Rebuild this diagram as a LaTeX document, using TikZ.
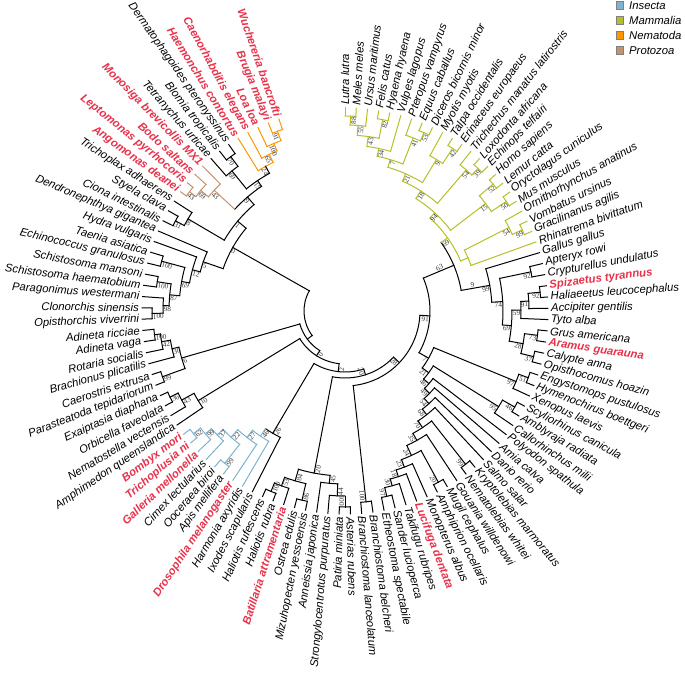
\documentclass[tikz,border=0pt]{standalone}
\usepackage{fontspec}
\setmainfont{Liberation Sans}
\newfontfamily\bootfont{Liberation Serif}
\definecolor{insecta}{RGB}{127,178,206}
\definecolor{mammalia}{RGB}{184,190,42}
\definecolor{nematoda}{RGB}{255,150,0}
\definecolor{protozoa}{RGB}{196,146,112}
\definecolor{hilite}{RGB}{231,50,75}
\definecolor{bootgray}{RGB}{55,55,55}

\newcounter{bsno}
\tikzset{
  branch/.style={line width=1pt, line cap=rect},
  boot/.style={font=\bootfont\fontsize{7.2}{7.2}\selectfont, text=bootgray, inner sep=0.7pt},
  leaf/.style={font=\fontsize{11.3}{12}\selectfont\itshape, inner sep=0pt},
  leafhi/.style={font=\fontsize{11.3}{12}\selectfont\bfseries\itshape, text=hilite, inner sep=0pt},
  keybox/.style={draw=gray, line width=0.8pt, minimum size=7.5pt, inner sep=0pt},
  keytext/.style={font=\fontsize{11.3}{12}\selectfont\itshape, inner sep=0pt, anchor=west}
}

% bootstrap value, set just inside the node
\newcommand{\bootval}[3]{%
  \stepcounter{bsno}%
  \pgfmathtruncatemacro{\bside}{cos(#1)>-0.01}%
  \ifnum\bside=1
    \node[boot, rotate=#1, anchor=north east] (bs\arabic{bsno}) at (#1:#2pt) {#3};
  \else
    \pgfmathsetmacro{\brot}{#1-180}%
    \node[boot, rotate=\brot, anchor=north west] (bs\arabic{bsno}) at (#1:#2pt) {#3};
  \fi}

% clade: colour, first/last child angle, radius, parent radius, bootstrap
\newcommand{\clade}[6]{%
  \pgfmathsetmacro{\cmid}{(#2+#3)/2}%
  \draw[branch, draw=#1] (#2:#4pt) arc[start angle=#2, end angle=#3, radius=#4pt];
  \draw[branch, draw=#1] (\cmid:#5pt) -- (\cmid:#4pt);
  \if\relax\detokenize{#6}\relax\else\bootval{\cmid}{#4}{#6}\fi}

\begin{document}
\begin{tikzpicture}[x=1pt,y=1pt]
\useasboundingbox (-345,-363) rectangle (340,311);

% spine
\draw[branch] (150.5:41pt) arc[start angle=150.5, end angle=216.8, radius=41pt];
\clade{black}{196.05}{237.5}{47}{41}{}
\clade{black}{211.4}{263.6}{53}{47}{0}
\clade{black}{239.4}{287.85}{61}{53}{2}
\clade{black}{259.2}{316.5}{67}{61}{20}
\clade{black}{276.3}{356.7}{75}{67}{28}
\clade{black}{-29.4}{22.8}{85}{75}{91}

% nematodes, mites, protozoa, placozoa, helminths
\clade{black}{140.1}{160.85}{129}{41}{0}
\clade{black}{130.55}{149.6}{140}{129}{1}
\clade{black}{123.8}{137.3}{150}{140}{9}
\clade{black}{118.75}{128.9}{157}{150}{15}
\draw[branch, draw=nematoda] (115.8:165pt) arc[start angle=115.8, end angle=121.7, radius=165pt];
\draw[branch] (118.75:157pt) -- (118.75:165pt);
\bootval{118.75}{165}{24}
\clade{nematoda}{113.0}{118.6}{174}{165}{65}
\clade{nematoda}{110.6}{115.4}{182}{174}{100}
\clade{nematoda}{109.0}{112.2}{192}{182}{91}
\clade{black}{126.5}{131.3}{180}{157}{69}
\clade{black}{124.9}{128.1}{192}{180}{70}
\clade{protozoa}{134.5}{140.1}{178}{150}{43}
\clade{protozoa}{137.7}{142.5}{188}{178}{69}
\clade{protozoa}{140.9}{144.1}{196}{188}{43}
\clade{black}{147.2}{152.0}{182}{140}{8}
\clade{black}{150.4}{153.6}{192}{182}{31}
\clade{black}{156.8}{164.9}{150}{129}{5}
\clade{black}{160.0}{169.75}{158}{150}{12}
\clade{black}{164.8}{174.7}{166}{158}{69}
\clade{black}{163.2}{166.4}{190}{166}{100}
\clade{black}{171.15}{178.3}{176}{166}{87}
\clade{black}{169.6}{172.7}{190}{176}{100}
\clade{black}{175.9}{180.7}{182}{176}{98}
\clade{black}{179.1}{182.3}{193}{182}{100}

% rotifers, spiders, cnidarians
\clade{black}{192.3}{199.8}{170}{47}{6}
\clade{black}{189.5}{195.1}{177}{170}{30}
\clade{black}{187.1}{191.9}{186}{177}{42}
\clade{black}{185.5}{188.7}{192}{186}{100}
\clade{black}{198.2}{201.4}{194}{170}{99}
\clade{black}{208.6}{214.2}{172}{53}{10}
\clade{black}{206.2}{211.0}{186}{172}{43}
\clade{black}{204.6}{207.8}{195}{186}{36}

% insects
\clade{black}{235.95}{242.9}{142}{61}{26}
\clade{insecta}{232.2}{239.7}{151}{142}{46}
\clade{insecta}{227.9}{236.5}{160}{151}{27}
\clade{insecta}{224.1}{231.7}{170}{160}{22}
\clade{insecta}{221.35}{226.9}{178}{170}{37}
\clade{insecta}{219.0}{223.7}{186}{178}{99}
\clade{insecta}{217.4}{220.6}{195}{186}{62}
\clade{insecta}{230.1}{233.3}{194}{170}{99}

% molluscs, echinoderms, lancelets
\clade{black}{253.6}{264.8}{165}{67}{20}
\clade{black}{250.05}{257.2}{177}{165}{84}
\clade{black}{247.7}{252.4}{186}{177}{53}
\clade{black}{246.1}{249.3}{195}{186}{100}
\clade{black}{255.6}{258.8}{194}{177}{86}
\clade{black}{262.0}{267.6}{173}{165}{45}
\clade{black}{265.2}{270.0}{185}{173}{44}
\clade{black}{268.4}{271.6}{196}{185}{100}
\clade{black}{274.7}{277.9}{192}{75}{100}

% fishes and frogs
\clade{black}{-36.4}{-22.4}{96}{85}{7}
\clade{black}{-40.9}{-31.9}{104}{96}{21}
\clade{black}{-34.3}{-29.5}{181}{104}{95}
\clade{black}{-31.1}{-27.9}{195}{181}{46}
\clade{black}{-44.25}{-37.5}{111}{104}{46}
\clade{black}{-47.8}{-40.7}{118}{111}{49}
\clade{black}{-51.75}{-43.9}{125}{118}{54}
\clade{black}{-56.4}{-47.1}{132}{125}{68}
\clade{black}{-60.95}{-51.8}{140}{132}{70}
\clade{black}{-53.4}{-50.2}{195}{140}{99}
\clade{black}{-65.3}{-56.6}{148}{140}{35}
\clade{black}{-69.2}{-61.4}{159}{148}{24}
\clade{black}{-63.0}{-59.8}{195}{159}{20}
\clade{black}{-72.15}{-66.2}{167}{159}{23}
\clade{black}{-74.9}{-69.4}{174}{167}{18}
\clade{black}{-77.3}{-72.5}{181}{174}{30}
\clade{black}{-78.9}{-75.7}{190}{181}{97}
\clade{black}{-24.8}{-20.0}{185}{96}{97}
\clade{black}{-21.6}{-18.4}{195}{185}{51}

% birds
\clade{black}{10.05}{35.5}{118}{85}{}
\node[boot, rotate=22.8, anchor=south] (bs63) at (22.8:104pt) {63};
\clade{black}{3.4}{16.7}{147}{118}{99}
\node[boot, rotate=10.05, anchor=south] (bs9) at (10.05:130pt) {9};
\clade{black}{-5.05}{11.9}{158}{147}{74}
\clade{black}{10.3}{13.5}{190}{158}{92}
\clade{black}{-10.4}{0.3}{167}{158}{69}
\clade{black}{-2.5}{3.1}{176}{167}{59}
\clade{black}{0.7}{5.5}{184}{176}{91}
\clade{black}{3.9}{7.1}{196}{184}{92}
\clade{black}{-13.6}{-7.2}{181}{167}{28}
\clade{black}{-8.8}{-5.6}{194}{181}{73}
\clade{black}{-15.2}{-12.0}{194}{181}{37}

% mammals
\clade{mammalia}{23.4}{47.6}{126}{118}{69}
\clade{mammalia}{19.8}{27.0}{134}{126}{}
\clade{mammalia}{24.6}{29.4}{184}{134}{54}
\clade{mammalia}{23.0}{26.2}{195}{184}{99}
\clade{mammalia}{37.4}{57.75}{133}{126}{94}
\clade{mammalia}{34.2}{40.6}{177}{133}{15}
\clade{mammalia}{32.6}{35.8}{195}{177}{50}
\clade{mammalia}{39.0}{42.2}{195}{177}{52}
\clade{mammalia}{49.35}{66.15}{142}{133}{18}
\clade{mammalia}{47.0}{51.7}{186}{142}{54}
\clade{mammalia}{45.4}{48.6}{195}{186}{39}
\clade{mammalia}{58.9}{73.4}{150}{142}{21}
\clade{mammalia}{56.5}{61.3}{177}{150}{9}
\clade{mammalia}{54.9}{58.1}{195}{177}{42}
\clade{mammalia}{68.5}{78.25}{158}{150}{7}
\clade{mammalia}{66.1}{70.9}{186}{158}{41}
\clade{mammalia}{64.5}{67.7}{195}{186}{53}
\clade{mammalia}{74.1}{82.4}{166}{158}{34}
\clade{mammalia}{78.85}{86.0}{176}{166}{43}
\clade{mammalia}{77.3}{80.4}{195}{176}{82}
\clade{mammalia}{83.6}{88.4}{186}{176}{55}
\clade{mammalia}{86.8}{90.0}{195}{186}{88}

% leaves: index / branch colour / highlighted / parent radius / name
\foreach \idx/\col/\hi/\prad/\txt in {
1/black/0/192/Branchiostoma lanceolatum,
2/black/0/192/Branchiostoma belcheri,
3/black/0/190/Etheostoma spectabile,
4/black/0/190/Sander lucioperca,
5/black/0/181/Takifugu rubripes,
6/black/1/174/Lucifuga dentata,
7/black/0/167/Monopterus albus,
8/black/0/195/Amphiprion ocellaris,
9/black/0/195/Mugil cephalus,
10/black/0/148/Gouania willdenowi,
11/black/0/195/Nematolebias whitei,
12/black/0/195/Kryptolebias marmoratus,
13/black/0/132/Salmo salar,
14/black/0/125/Danio rerio,
15/black/0/118/Amia calva,
16/black/0/111/Polyodon spathula,
17/black/0/181/Callorhinchus milii,
18/black/0/195/Amblyraja radiata,
19/black/0/195/Scyliorhinus canicula,
20/black/0/185/Xenopus laevis,
21/black/0/195/Hymenochirus boettgeri,
22/black/0/195/Engystomops pustulosus,
23/black/0/194/Opisthocomus hoazin,
24/black/0/194/Calypte anna,
25/black/1/194/Aramus guarauna,
26/black/0/194/Grus americana,
27/black/0/176/Tyto alba,
28/black/0/184/Accipiter gentilis,
29/black/0/196/Haliaeetus leucocephalus,
30/black/1/196/Spizaetus tyrannus,
31/black/0/190/Crypturellus undulatus,
32/black/0/190/Apteryx rowi,
33/black/0/147/Gallus gallus,
34/mammalia/0/134/Rhinatrema bivittatum,
35/mammalia/0/195/Gracilinanus agilis,
36/mammalia/0/195/Vombatus ursinus,
37/mammalia/0/184/Ornithorhynchus anatinus,
38/mammalia/0/195/Mus musculus,
39/mammalia/0/195/Oryctolagus cuniculus,
40/mammalia/0/195/Lemur catta,
41/mammalia/0/195/Homo sapiens,
42/mammalia/0/195/Echinops telfairi,
43/mammalia/0/195/Loxodonta africana,
44/mammalia/0/186/Trichechus manatus latirostris,
45/mammalia/0/195/Erinaceus europaeus,
46/mammalia/0/195/Talpa occidentalis,
47/mammalia/0/177/Myotis myotis,
48/mammalia/0/195/Diceros bicornis minor,
49/mammalia/0/195/Equus caballus,
50/mammalia/0/186/Pteropus vampyrus,
51/mammalia/0/166/Vulpes lagopus,
52/mammalia/0/195/Hyaena hyaena,
53/mammalia/0/195/Felis catus,
54/mammalia/0/186/Ursus maritimus,
55/mammalia/0/195/Meles meles,
56/mammalia/0/195/Lutra lutra,
57/nematoda/1/192/Wuchereria bancrofti,
58/nematoda/1/192/Brugia malayi,
59/nematoda/1/182/Loa loa,
60/nematoda/1/174/Caenorhabditis elegans,
61/nematoda/1/165/Haemonchus contortus,
62/black/0/192/Dermatophagoides pteronyssinus,
63/black/0/192/Blomia tropicalis,
64/black/0/180/Tetranychus urticae,
65/protozoa/1/178/Monosiga brevicollis MX1,
66/protozoa/1/188/Bodo saltans,
67/protozoa/1/196/Leptomonas pyrrhocoris,
68/protozoa/1/196/Angomonas deanei,
69/black/0/182/Trichoplax adhaerens,
70/black/0/192/Styela clava,
71/black/0/192/Ciona intestinalis,
72/black/0/150/Dendronephthya gigantea,
73/black/0/158/Hydra vulgaris,
74/black/0/190/Taenia asiatica,
75/black/0/190/Echinococcus granulosus,
76/black/0/190/Schistosoma mansoni,
77/black/0/190/Schistosoma haematobium,
78/black/0/182/Paragonimus westermani,
79/black/0/193/Clonorchis sinensis,
80/black/0/193/Opisthorchis viverrini,
81/black/0/192/Adineta ricciae,
82/black/0/192/Adineta vaga,
83/black/0/186/Rotaria socialis,
84/black/0/177/Brachionus plicatilis,
85/black/0/194/Caerostris extrusa,
86/black/0/194/Parasteatoda tepidariorum,
87/black/0/195/Exaiptasia diaphana,
88/black/0/195/Orbicella faveolata,
89/black/0/186/Nematostella vectensis,
90/black/0/172/Amphimedon queenslandica,
91/insecta/1/195/Bombyx mori,
92/insecta/1/195/Trichoplusia ni,
93/insecta/1/186/Galleria mellonella,
94/insecta/0/178/Cimex lectularius,
95/insecta/0/194/Ooceraea biroi,
96/insecta/0/194/Apis mellifera,
97/insecta/1/160/Drosophila melanogaster,
98/insecta/0/151/Harmonia axyridis,
99/black/0/142/Ixodes scapularis,
100/black/0/195/Haliotis rufescens,
101/black/0/195/Haliotis rubra,
102/black/1/186/Batillaria attramentaria,
103/black/0/194/Ostrea edulis,
104/black/0/194/Mizuhopecten yessoensis,
105/black/0/173/Anneissia japonica,
106/black/0/185/Strongylocentrotus purpuratus,
107/black/0/196/Patiria miniata,
108/black/0/196/Asterias rubens}{
  \pgfmathsetmacro{\ang}{\idx<57 ? 90-(56-\idx)*3.187 : 109+(\idx-57)*3.187}
  \draw[branch, draw=\col] (\ang:\prad pt) -- (\ang:203pt);
  \ifnum\hi=1 \tikzset{curleaf/.style={leafhi}}\else\tikzset{curleaf/.style={leaf}}\fi
  \pgfmathtruncatemacro{\lside}{cos(\ang)>-0.01}
  \ifnum\lside=1
    \node[curleaf, anchor=west, rotate=\ang] (leaf\idx) at (\ang:206pt) {\txt};
  \else
    \pgfmathsetmacro{\lrot}{\ang-180}
    \node[curleaf, anchor=east, rotate=\lrot] (leaf\idx) at (\ang:206pt) {\txt};
  \fi
}

% key
\node[keybox, fill=insecta] (keyins) at (275pt,305.5pt) {};
\node[keytext] (keyinsT) at (284pt,305.5pt) {Insecta};
\node[keybox, fill=mammalia] (keymam) at (275pt,290.5pt) {};
\node[keytext] (keymamT) at (284pt,290.5pt) {Mammalia};
\node[keybox, fill=nematoda] (keynem) at (275pt,275.5pt) {};
\node[keytext] (keynemT) at (284pt,275.5pt) {Nematoda};
\node[keybox, fill=protozoa] (keypro) at (275pt,260.5pt) {};
\node[keytext] (keyproT) at (284pt,260.5pt) {Protozoa};
\end{tikzpicture}
\end{document}
